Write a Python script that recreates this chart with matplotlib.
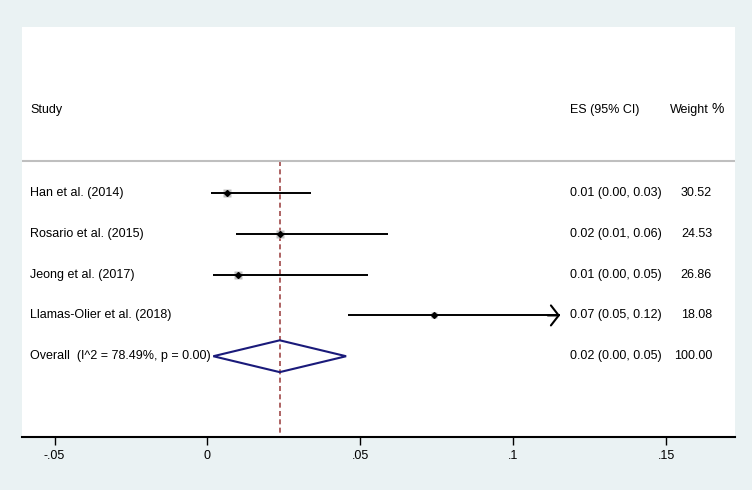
import matplotlib
matplotlib.use("Agg")
import matplotlib.pyplot as plt
from matplotlib.patches import Polygon
import matplotlib.transforms as mtrans
import numpy as np

plt.rcParams['font.family'] = ['Liberation Sans', 'DejaVu Sans']

studies = ["Han et al. (2014)", "Rosario et al. (2015)", "Jeong et al. (2017)",
           "Llamas-Olier et al. (2018)"]
es = [0.0063, 0.0236, 0.0099, 0.0739]
lower = [0.0012, 0.0093, 0.0018, 0.0459]
upper = [0.0337, 0.0590, 0.0525, 0.1200]
es_text = ["0.01 (0.00, 0.03)", "0.02 (0.01, 0.06)", "0.01 (0.00, 0.05)", "0.07 (0.05, 0.12)"]
weights = [30.52, 24.53, 26.86, 18.08]
weight_text = ["30.52", "24.53", "26.86", "18.08"]

overall_label = "Overall  (I^2 = 78.49%, p = 0.00)"
overall_es = 0.0236
overall_lower = 0.0019
overall_upper = 0.0453
overall_text = "0.02 (0.00, 0.05)"
overall_weight = "100.00"

xticks = [-0.05, 0, 0.05, 0.1, 0.15]
xticklabels = ["-.05", "0", ".05", ".1", ".15"]

clip_right = 0.1152
bg = "#EAF2F3"

fig = plt.figure(figsize=(7.52, 4.90), dpi=100, facecolor=bg)
ax = fig.add_axes([22/752, 1-437/490, 713/752, 410/490])
ax.set_facecolor("white")
xmin, xmax = (22-207.5)/3060, (735-207.5)/3060
ax.set_xlim(xmin, xmax)
ax.set_ylim(5.98, -4.07)

def fx(px):
    return (px-22)/713

fs = 9
trb = mtrans.blended_transform_factory(ax.transAxes, ax.transData)

# header
ax.text(fx(30), -2.03, "Study", transform=trb, fontsize=fs, va='center', ha='left')
ax.text(fx(570), -2.03, "ES (95% CI)", transform=trb, fontsize=fs, va='center', ha='left')
ax.text(fx(670), -2.03, "Weight", transform=trb, fontsize=fs, va='center', ha='left')
ax.text(fx(711.5), -2.05, "%", transform=trb, fontsize=10, va='center', ha='left')

# separator
ax.axhline(-0.78, color="#BFBFBF", lw=1.5)

# dashed line at overall
ax.plot([overall_es, overall_es], [-0.78, 5.98], color="#A04848", lw=1.2,
        ls=(0, (3.0, 2.0)), zorder=1)

for i, (s, e, lo, up, t, w, wt) in enumerate(zip(studies, es, lower, upper, es_text, weights, weight_text)):
    ax.text(fx(30), i, s, transform=trb, fontsize=fs, va='center', ha='left')
    ax.text(fx(570), i, t, transform=trb, fontsize=fs, va='center', ha='left')
    ax.text(fx(712), i, wt, transform=trb, fontsize=fs, va='center', ha='right')
    ax.plot(e, i, marker='s', ms=np.sqrt(w)*1.1, color="#C0C0C0", mec="none", zorder=2)
    if up > clip_right:
        ax.plot([lo, clip_right], [i, i], color="black", lw=1.4, zorder=3, solid_capstyle='butt')
        ax.annotate("", xy=(clip_right, i), xytext=(clip_right-0.004, i),
                    arrowprops=dict(arrowstyle="->,head_length=0.28,head_width=0.36",
                                    color="black", lw=1.5, mutation_scale=20,
                                    shrinkA=0, shrinkB=0), zorder=3)
    else:
        ax.plot([lo, up], [i, i], color="black", lw=1.4, zorder=3, solid_capstyle='butt')
    ax.plot(e, i, marker='D', ms=3, color="black", zorder=4)

n = len(studies)
ax.text(fx(30), n, overall_label, transform=trb, fontsize=fs, va='center', ha='left')
ax.text(fx(570), n, overall_text, transform=trb, fontsize=fs, va='center', ha='left')
ax.text(fx(712), n, overall_weight, transform=trb, fontsize=fs, va='center', ha='right')
dia = Polygon([[overall_lower, n], [overall_es, n-0.39], [overall_upper, n], [overall_es, n+0.39]],
              closed=True, fill=False, edgecolor="#1A1A7A", lw=1.5, zorder=3)
ax.add_patch(dia)

for sp in ['top', 'left', 'right']:
    ax.spines[sp].set_visible(False)
ax.spines['bottom'].set_linewidth(1.5)
ax.set_yticks([])
ax.set_xticks(xticks)
ax.set_xticklabels(xticklabels, fontsize=fs)
ax.tick_params(axis='x', length=6, width=1, pad=3)

fig.savefig("out.png", dpi=100, facecolor=bg)
